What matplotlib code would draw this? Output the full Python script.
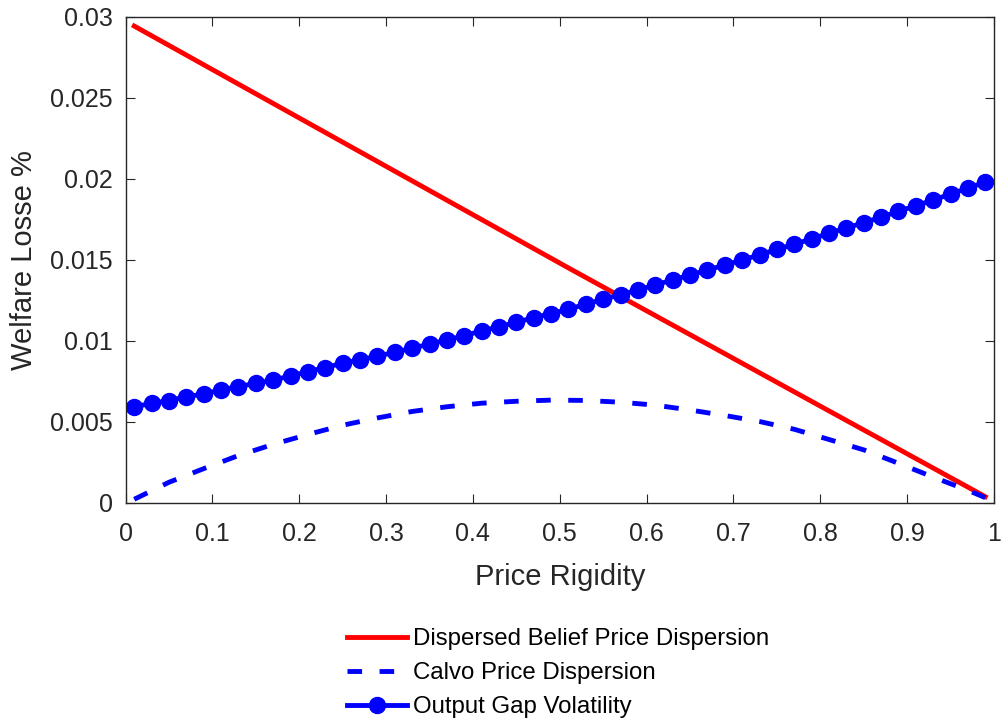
import matplotlib
matplotlib.use('Agg')
import matplotlib.pyplot as plt

plt.rcParams['font.family'] = ['Liberation Sans', 'DejaVu Sans']

# price rigidity grid used for the output gap series
rigidity = [0.01, 0.03, 0.05, 0.07, 0.09, 0.11, 0.13, 0.15, 0.17, 0.19,
            0.21, 0.23, 0.25, 0.27, 0.29, 0.31, 0.33, 0.35, 0.37, 0.39,
            0.41, 0.43, 0.45, 0.47, 0.49, 0.51, 0.53, 0.55, 0.57, 0.59,
            0.61, 0.63, 0.65, 0.67, 0.69, 0.71, 0.73, 0.75, 0.77, 0.79,
            0.81, 0.83, 0.85, 0.87, 0.89, 0.91, 0.93, 0.95, 0.97, 0.99]
output_gap = [0.00594, 0.00615, 0.00632, 0.00656, 0.00673, 0.00698, 0.00718, 0.00739, 0.00759, 0.00784,
              0.00811, 0.00836, 0.00863, 0.00883, 0.00907, 0.00930, 0.00955, 0.00981, 0.01006, 0.01033,
              0.01062, 0.01088, 0.01115, 0.01144, 0.01169, 0.01195, 0.01228, 0.01257, 0.01286, 0.01315,
              0.01346, 0.01377, 0.01407, 0.01438, 0.01469, 0.01500, 0.01531, 0.01566, 0.01597, 0.01630,
              0.01665, 0.01698, 0.01730, 0.01765, 0.01800, 0.01835, 0.01870, 0.01907, 0.01944, 0.01981]

# dispersed belief loss is linear in rigidity
belief_x = [0.01, 0.51, 0.99]
belief_loss = [0.02944, 0.01451, 0.00039]

calvo_x = [0.01, 0.05, 0.09, 0.13, 0.17, 0.21, 0.25, 0.29, 0.33, 0.37, 0.41, 0.45, 0.49,
           0.53, 0.57, 0.61, 0.65, 0.69, 0.73, 0.77, 0.81, 0.85, 0.89, 0.93, 0.97, 0.99]
calvo_loss = [0.00023, 0.00128, 0.00212, 0.00293, 0.00362, 0.00423, 0.00480, 0.00525, 0.00565,
              0.00594, 0.00616, 0.00628, 0.00635, 0.00633, 0.00622, 0.00604, 0.00574, 0.00540,
              0.00503, 0.00455, 0.00392, 0.00328, 0.00245, 0.00160, 0.00078, 0.00033]

xticks = [0, 0.1, 0.2, 0.3, 0.4, 0.5, 0.6, 0.7, 0.8, 0.9, 1]
xtick_labels = ['0', '0.1', '0.2', '0.3', '0.4', '0.5', '0.6', '0.7', '0.8', '0.9', '1']
yticks = [0, 0.005, 0.01, 0.015, 0.02, 0.025, 0.03]
ytick_labels = ['0', '0.005', '0.01', '0.015', '0.02', '0.025', '0.03']

fig = plt.figure(figsize=(10.02, 7.2), dpi=100)
ax = fig.add_axes([0.1253, 0.3014, 0.8667, 0.6750])

ax.plot(belief_x, belief_loss, color='#ff0000', linewidth=3.5,
        label='Dispersed Belief Price Dispersion')
ax.plot(calvo_x, calvo_loss, color='#0000ff', linewidth=3.5,
        linestyle=(0, (3.0, 3.6)), label='Calvo Price Dispersion')
ax.plot(rigidity, output_gap, color='#0000ff', linewidth=3.5, marker='o',
        markersize=11.5, label='Output Gap Volatility')

ax.set_xlim(0, 1)
ax.set_ylim(0, 0.03)
ax.set_xticks(xticks)
ax.set_xticklabels(xtick_labels)
ax.set_yticks(yticks)
ax.set_yticklabels(ytick_labels)

ax.tick_params(direction='in', length=6.5, width=0.8, color='#262626',
               labelcolor='#262626', labelsize=18, top=True, right=True)
ax.tick_params(axis='x', pad=14)
ax.tick_params(axis='y', pad=9)
for s in ax.spines.values():
    s.set_color('#262626')
    s.set_linewidth(1.0)

ax.set_xlabel('Price Rigidity', fontsize=21, color='#262626', labelpad=12)
ax.set_ylabel('Welfare Losse %', fontsize=21, color='#262626', labelpad=9)

fig.legend(loc='upper left', bbox_to_anchor=(0.3463, 0.1275), frameon=False,
           fontsize=17.3, handlelength=2.5, handletextpad=0.25, labelspacing=0.5,
           borderpad=0, borderaxespad=0)

fig.savefig('out.png', dpi=100)
